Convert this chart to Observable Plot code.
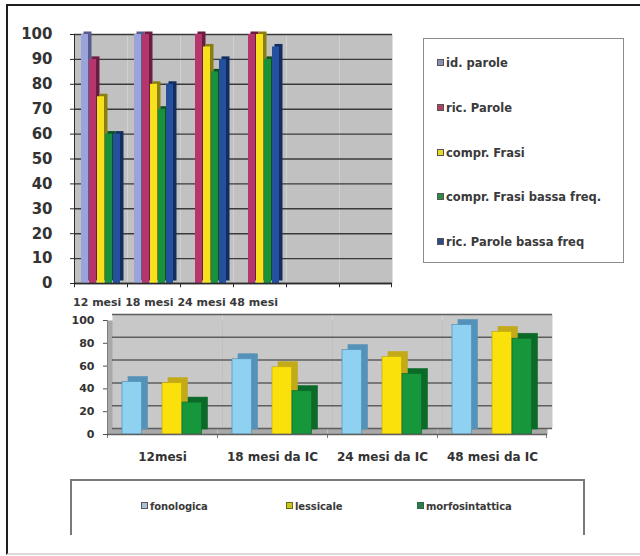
<!DOCTYPE html>
<html><head><meta charset="utf-8">
<script src="https://cdn.jsdelivr.net/npm/d3@7"></script>
<script src="https://cdn.jsdelivr.net/npm/@observablehq/plot@0.6"></script>
<style>
html,body{margin:0;padding:0;background:#fff;overflow:hidden;}
#page{position:relative;width:640px;height:556px;overflow:hidden;font-family:"DejaVu Sans",sans-serif;font-weight:bold;color:#333;}
#page > *{position:absolute;}
#frame{left:6px;top:4px;width:720px;height:547px;border-left:2px solid #1e1e1e;border-top:2px solid #1e1e1e;border-bottom:2px solid #dadada;}
#topChart{left:0;top:0;}
#bottomChart{left:0;top:300px;}
#monthLabels{left:73px;top:296px;font-size:11px;white-space:pre;color:#3a3a3a;}
#legendTop{left:423px;top:38px;width:199px;height:223px;border:1px solid #8c8c8c;background:#fff;}
.lt-item{position:absolute;left:13px;font-size:11.5px;line-height:14px;color:#3a3a3a;white-space:nowrap;}
.sw{display:inline-block;width:5px;height:5px;border:1px solid #555;margin-right:2px;vertical-align:1px;}
#legendBottom{left:70px;top:479px;width:511px;height:54px;border:2px solid #7a7a7a;border-bottom:none;}
.lb-item{position:absolute;top:19px;font-size:10px;line-height:14px;color:#3a3a3a;white-space:nowrap;letter-spacing:-0.1px;}
svg{background:transparent;}
</style>
</head>
<body>
<div id="page">
  <div id="frame"></div>
  <div id="topChart"></div>
  <div id="monthLabels"></div>
  <div id="legendTop"></div>
  <div id="bottomChart"></div>
  <div id="legendBottom"></div>
</div>
<script>
// ---------- Top chart data ----------
const months = ["12 mesi", "18 mesi", "24 mesi", "48 mesi"];
const emptySlots = ["slot 5", "slot 6"];
const seriesTop = ["id. parole", "ric. Parole", "compr. Frasi", "compr. Frasi bassa freq.", "ric. Parole bassa freq"];
const idParole        = [100, 100, null, null];
const ricParole       = [90, 100, 100, 100];
const comprFrasi      = [75, 80, 95, 100];
const comprFrasiBassa = [60, 70, 85, 90];
const ricParoleBassa  = [60, 80, 90, 95];
const yTicksTop = [0, 10, 20, 30, 40, 50, 60, 70, 80, 90, 100];
const colorsTop = ["#9ba4da", "#b5356d", "#f6e11c", "#18903c", "#24509e"];
const sidesTop  = ["#585d8c", "#6a1d40", "#8a7e10", "#0b5222", "#122d5e"];
const swatchTop = ["#8f8fb5", "#b04060", "#e8d820", "#2f8a4a", "#2a4a8a"];

// ---------- Bottom chart data ----------
const categories = ["12mesi", "18 mesi da IC", "24 mesi da IC", "48 mesi da IC"];
const seriesBottom = ["fonologica", "lessicale", "morfosintattica"];
const fonologica      = [46, 66, 74, 96];
const lessicale       = [45, 59, 68, 90];
const morfosintattica = [28, 38, 53, 84];
const yTicksBottom = [0, 20, 40, 60, 80, 100];
const colorsBottom = ["#8fd1f0", "#fbe10c", "#17973c"];
const sidesBottom  = ["#5492b9", "#c2aa18", "#0c6a29"];
const swatchBottom = ["#a9c4d0", "#c8c820", "#2e7a4e"];
const swatchBorder = ["#556", "#6a6a10", "#2e6a44"];

// ---------- Build tables ----------
const valuesTop = [idParole, ricParole, comprFrasi, comprFrasiBassa, ricParoleBassa];
const dataTop = months.flatMap((m, i) => seriesTop.map((s, j) => ({month: m, series: s, value: valuesTop[j][i]})))
  .filter(d => d.value != null);
const slotsTop = months.concat(emptySlots);

const valuesBottom = [fonologica, lessicale, morfosintattica];
const dataBottom = categories.flatMap((c, i) => seriesBottom.map((s, j) => ({cat: c, series: s, value: valuesBottom[j][i]})));
const xDomainBottom = [seriesBottom[0], "gap", seriesBottom[1], seriesBottom[2]];

const baseStyle = {background: "transparent", fontFamily: "DejaVu Sans, sans-serif", fontWeight: "bold", color: "#333", overflow: "visible"};

// ---------- Top plot ----------
const topW = 400, topML = 72, topMR = 7;
const topFacetW = (topW - topML - topMR) / slotsTop.length;
const topPlot = Plot.plot({
  width: topW, height: 296,
  marginLeft: topML, marginRight: topMR, marginTop: 34, marginBottom: 13,
  style: baseStyle,
  fx: {domain: slotsTop, padding: 0, axis: null},
  x: {domain: seriesTop, paddingInner: 0, paddingOuter: 0.47, axis: null},
  y: {domain: [0, 100], axis: null},
  color: {domain: seriesTop, range: colorsTop},
  marks: [
    Plot.frame({fill: "#c1c1c1"}),
    Plot.gridY(yTicksTop, {stroke: "#3a3a3a", strokeOpacity: 1, strokeWidth: 1.4}),
    ...seriesTop.map((s, j) => Plot.barY(dataTop.filter(d => d.series === s),
      {fx: "month", x: "series", y: "value", fill: sidesTop[j], dx: 2.5, dy: -2.5})),
    Plot.barY(dataTop, {fx: "month", x: "series", y: "value", fill: "series", insetRight: 1}),
    Plot.ruleY([0], {stroke: "#2a2a2a", strokeWidth: 1.6}),
    Plot.barY(slotsTop, {fx: d => d, y1: 0, y2: -1.7, fill: "#2a2a2a", insetRight: topFacetW - 1.5}),
    Plot.barY(slotsTop.slice(-1), {fx: d => d, y1: 0, y2: -1.7, fill: "#2a2a2a", insetLeft: topFacetW - 1.5}),
    Plot.barY(slotsTop.slice(0, 1), {fx: d => d, y1: 0, y2: 100, fill: "#2a2a2a", insetRight: topFacetW - 1.5}),
    Plot.axisY(yTicksTop, {tickSize: 4, tickPadding: 18, fontSize: 15, stroke: "#2a2a2a", fill: "#333", label: null})
  ]
});
document.getElementById("topChart").appendChild(topPlot);
document.getElementById("monthLabels").textContent = months.join(" ");

// Top legend
const lt = document.getElementById("legendTop");
seriesTop.forEach((s, j) => {
  const el = document.createElement("div");
  el.className = "lt-item";
  el.style.top = (17 + j * 44.8) + "px";
  el.innerHTML = `<span class="sw" style="background:${swatchTop[j]}"></span>${s}`;
  lt.appendChild(el);
});

// ---------- Bottom plot ----------
const botW = 640, botML = 105, botMR = 92;
const botFacetW = (botW - botML - botMR) / categories.length;
const bottomPlot = Plot.plot({
  width: botW, height: 174,
  marginLeft: botML, marginRight: botMR, marginTop: 20, marginBottom: 40,
  style: baseStyle,
  fx: {domain: categories, padding: 0, axis: null},
  x: {domain: xDomainBottom, paddingInner: 0, paddingOuter: 0.7, axis: null},
  y: {domain: [0, 100], axis: null},
  color: {domain: seriesBottom, range: colorsBottom},
  marks: [
    Plot.frame({fill: "#a9a9a9"}),
    Plot.frame({fill: "#c8c8c8", dx: 5, dy: -6}),
    Plot.gridY(yTicksBottom, {stroke: "#5e5e5e", strokeOpacity: 1, strokeWidth: 1.5, dx: 5, dy: -6}),
    ...seriesBottom.map((s, j) => Plot.barY(dataBottom.filter(d => d.series === s),
      {fx: "cat", x: "series", y: "value", fill: sidesBottom[j], stroke: sidesBottom[j], strokeWidth: 0.6, dx: 6, dy: -5, insetRight: 0.5})),
    ...seriesBottom.map((s, j) => Plot.barY(dataBottom.filter(d => d.series === s),
      {fx: "cat", x: "series", y: "value", fill: "series", stroke: sidesBottom[j], strokeWidth: 0.7, insetRight: 0.5})),
    Plot.ruleY([0], {stroke: "#606060", strokeWidth: 1.6}),
    Plot.barY(categories, {fx: d => d, y1: 0, y2: -3.5, fill: "#505050", insetRight: botFacetW - 1.5}),
    Plot.barY(categories.slice(-1), {fx: d => d, y1: 0, y2: -3.5, fill: "#505050", insetLeft: botFacetW - 1.5}),
    Plot.barY(categories.slice(0, 1), {fx: d => d, y1: 0, y2: 100, fill: "#606060", insetRight: botFacetW - 1.5}),
    Plot.axisY(yTicksBottom, {tickSize: 4, tickPadding: 9, fontSize: 11, stroke: "#505050", fill: "#333", label: null}),
    Plot.axisFx({anchor: "bottom", tickSize: 0, tickPadding: 18, fontSize: 12, label: null, fill: "#333"})
  ]
});
document.getElementById("bottomChart").appendChild(bottomPlot);

// Bottom legend
const lb = document.getElementById("legendBottom");
const lbLefts = [69, 214, 345];
seriesBottom.forEach((s, j) => {
  const el = document.createElement("div");
  el.className = "lb-item";
  el.style.left = lbLefts[j] + "px";
  el.innerHTML = `<span class="sw" style="background:${swatchBottom[j]};border-color:${swatchBorder[j]}"></span>${s}`;
  lb.appendChild(el);
});
</script>
</body></html>
